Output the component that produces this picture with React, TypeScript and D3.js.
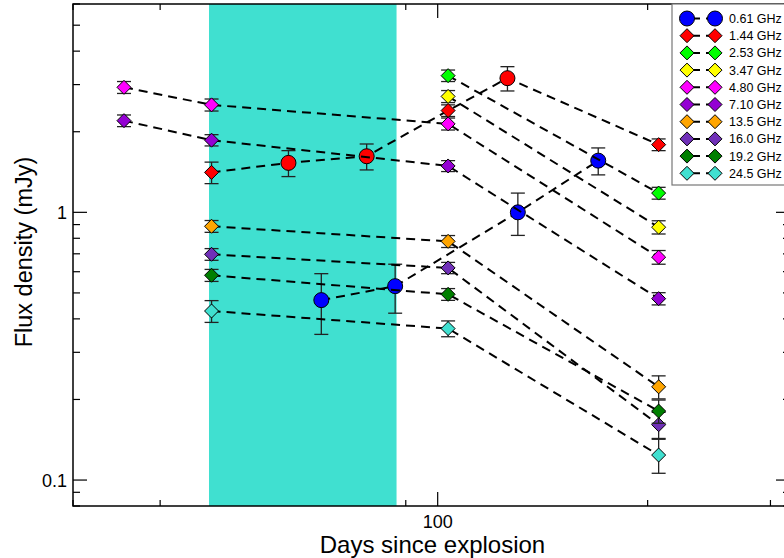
import React from "react";
import * as d3 from "d3";

const width = 784;
const height = 558;
const margin = { left: 73, top: 4, right: 790, bottom: 506 };

// [days, flux (mJy), error]
const flux061 = [[68.1, 0.47, 0.12], [86.9, 0.53, 0.11], [130.3, 1.0, 0.18], [169.9, 1.56, 0.18]];
const flux144 = [[47.4, 1.41, 0.13], [103.5, 2.4, 0.12], [207.4, 1.79, 0.09]];
const flux144gmrt = [[61.1, 1.53, 0.17], [79.1, 1.62, 0.18], [125.9, 3.17, 0.33]];
const flux253 = [[103.5, 3.24, 0.16], [207.4, 1.18, 0.06]];
const flux347 = [[103.5, 2.71, 0.14], [207.4, 0.88, 0.05]];
const flux480 = [[35.5, 2.93, 0.15], [47.4, 2.52, 0.13], [103.5, 2.14, 0.11], [207.4, 0.68, 0.04]];
const flux710 = [[35.5, 2.2, 0.11], [47.4, 1.86, 0.09], [103.5, 1.49, 0.07], [207.4, 0.476, 0.025]];
const flux135 = [[47.4, 0.887, 0.045], [103.5, 0.779, 0.04], [207.4, 0.223, 0.022]];
const flux160 = [[47.4, 0.697, 0.035], [103.5, 0.62, 0.03], [207.4, 0.161, 0.018]];
const flux192 = [[47.4, 0.582, 0.03], [103.5, 0.494, 0.025], [207.4, 0.181, 0.018]];
const flux245 = [[47.4, 0.428, 0.04], [103.5, 0.368, 0.025], [207.4, 0.124, 0.018]];

const bandLabels = ["0.61 GHz", "1.44 GHz", "2.53 GHz", "3.47 GHz", "4.80 GHz", "7.10 GHz", "13.5 GHz", "16.0 GHz", "19.2 GHz", "24.5 GHz"];
const bandData = [flux061, flux144, flux253, flux347, flux480, flux710, flux135, flux160, flux192, flux245];
const bandColors = ["#0000ff", "#ff0000", "#00ff00", "#ffff00", "#ff00ff", "#9400d3", "#ffa500", "#7030b8", "#007f00", "#40e0d0"];

// shaded interval (days)
const shadeRange = [47, 87.3];

const xDomain = [30, 320];
const yDomain = [0.08, 6];

const font = "'Liberation Sans', Arial, Helvetica, sans-serif";

const Marker = ({ x, y, color, circle }) =>
  circle ? (
    <circle cx={x} cy={y} r={7.5} fill={color} stroke="#000" strokeWidth={1} />
  ) : (
    <path d={`M${x},${y - 7}L${x + 7},${y}L${x},${y + 7}L${x - 7},${y}Z`} fill={color} stroke="#000" strokeWidth={1} />
  );

const App = () => {
  const x = d3.scaleLog().domain(xDomain).range([margin.left, margin.right]);
  const y = d3.scaleLog().domain(yDomain).range([margin.bottom, margin.top]);

  const xTicks = x.ticks();
  const yTicks = y.ticks();
  const isMajor = (v) => Math.abs(Math.log10(v) - Math.round(Math.log10(v))) < 1e-6;

  const line = d3
    .line()
    .x((d) => x(d[0]))
    .y((d) => y(d[1]));

  // 1.44 GHz mixes two instruments (circles + diamonds) on one dashed line
  const series = bandData.map((pts, i) => {
    const extra = i === 1 ? flux144gmrt.map((p) => [...p, 1]) : [];
    const all = [...pts.map((p) => [...p, i === 0 ? 1 : 0]), ...extra].sort((a, b) => a[0] - b[0]);
    return { pts: all, color: bandColors[i] };
  });

  return (
    <svg width={width} height={height} style={{ position: "absolute", left: 0, top: 0 }} fontFamily={font}>
      <rect width={width} height={height} fill="#fff" />

      {/* ticks on all four sides */}
      {xTicks.map((t, i) => {
        const len = isMajor(t) ? 14 : 6;
        return (
          <g key={"xt" + i} stroke="#000" strokeWidth={1.2}>
            <line x1={x(t)} x2={x(t)} y1={margin.bottom} y2={margin.bottom - len} />
            <line x1={x(t)} x2={x(t)} y1={margin.top} y2={margin.top + len} />
          </g>
        );
      })}
      {yTicks.map((t, i) => {
        const len = isMajor(t) ? 14 : 7;
        return (
          <g key={"yt" + i} stroke="#000" strokeWidth={1.2}>
            <line x1={margin.left} x2={margin.left + len} y1={y(t)} y2={y(t)} />
            <line x1={margin.right} x2={margin.right - len} y1={y(t)} y2={y(t)} />
          </g>
        );
      })}

      {/* shaded band */}
      <rect
        x={x(shadeRange[0])}
        y={margin.top}
        width={x(shadeRange[1]) - x(shadeRange[0])}
        height={margin.bottom - margin.top}
        fill="#40e0d0"
      />

      {/* frame */}
      <rect
        x={margin.left}
        y={margin.top}
        width={margin.right - margin.left}
        height={margin.bottom - margin.top}
        fill="none"
        stroke="#000"
        strokeWidth={1.5}
      />

      {/* tick labels */}
      {yTicks.filter(isMajor).map((t, i) => (
        <text key={"yl" + i} x={67} y={y(t) + 7} textAnchor="end" fontSize={18}>
          {d3.format("~g")(t)}
        </text>
      ))}
      {xTicks.filter(isMajor).map((t, i) => (
        <text key={"xl" + i} x={x(t)} y={528} textAnchor="middle" fontSize={18}>
          {t}
        </text>
      ))}

      {/* axis titles */}
      <text x={(margin.left + margin.right) / 2 + 1} y={553} textAnchor="middle" fontSize={24}>
        Days since explosion
      </text>
      <text transform={`translate(32,${(margin.top + margin.bottom) / 2 - 3}) rotate(-90)`} textAnchor="middle" fontSize={23.5}>
        Flux density (mJy)
      </text>

      {/* data */}
      {series.map((s, i) => (
        <g key={"s" + i}>
          <path d={line(s.pts)} fill="none" stroke="#000" strokeWidth={2} strokeDasharray="9 6" />
          {s.pts.map((p, j) => (
            <g key={j} stroke="#222" strokeWidth={1.3}>
              <line x1={x(p[0])} x2={x(p[0])} y1={y(p[1] + p[2])} y2={y(p[1] - p[2])} />
              <line x1={x(p[0]) - 7} x2={x(p[0]) + 7} y1={y(p[1] + p[2])} y2={y(p[1] + p[2])} />
              <line x1={x(p[0]) - 7} x2={x(p[0]) + 7} y1={y(p[1] - p[2])} y2={y(p[1] - p[2])} />
            </g>
          ))}
          {s.pts.map((p, j) => (
            <Marker key={"m" + j} x={x(p[0])} y={y(p[1])} color={s.color} circle={p[3] === 1} />
          ))}
        </g>
      ))}

      {/* legend */}
      <rect x={672} y={4} width={140} height={181} fill="#fff" stroke="#777" strokeWidth={1.2} />
      {bandLabels.map((lab, i) => {
        const ly = 18.5 + i * 17.2;
        return (
          <g key={"lg" + i}>
            <line x1={687} x2={715} y1={ly} y2={ly} stroke="#000" strokeWidth={2} strokeDasharray="9 6" strokeDashoffset={-4} />
            <Marker x={687} y={ly} color={bandColors[i]} circle={i === 0} />
            <Marker x={715} y={ly} color={bandColors[i]} circle={i === 0} />
            <text x={729} y={ly + 4.5} fontSize={12.5}>
              {lab}
            </text>
          </g>
        );
      })}
    </svg>
  );
};

export default App;
